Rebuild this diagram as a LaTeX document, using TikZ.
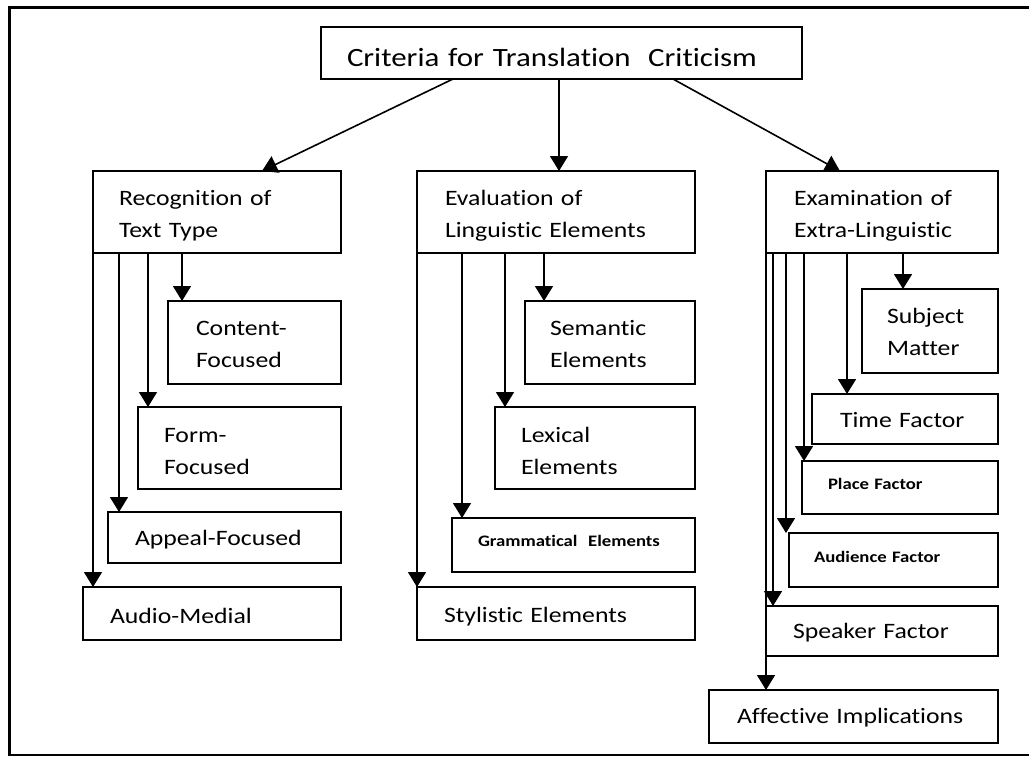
\documentclass[tikz,border=0pt]{standalone}
\usepackage{fontspec}
\setmainfont{Carlito}[FakeStretch=1.17, Ligatures=NoCommon]
\usetikzlibrary{arrows.meta}
\tikzset{
  bx/.style={draw=black, line width=1.6pt, inner ysep=0pt, outer sep=0pt,
    align=left, font=\fontsize{22}{32}\selectfont, anchor=north west},
  sm/.style={font=\fontsize{16}{20}\selectfont\bfseries},
  arr/.style={line width=1.6pt, -{Triangle[width=18pt,length=15pt]}},
  frame/.style={line width=2.8pt}
}
\begin{document}
\begin{tikzpicture}[x=1pt,y=-1pt]
\useasboundingbox (0,0) rectangle (1029,756);
\draw[frame] (9.5,7.5) rectangle (1032,755);

% top
\node[bx, font=\fontsize{26.4}{32}\selectfont, inner xsep=26pt, text width=429pt,
      text height=39pt, text depth=13pt] (top) at (321,27) {Criteria for Translation\ \ Criticism};

% level 1
\node[bx, inner xsep=26pt, text width=196pt, text height=34pt, text depth=48pt] (rec) at (93,171) {Recognition of\\Text Type};
\node[bx, inner xsep=28pt, text width=222pt, text height=34pt, text depth=48pt] (eva) at (417,171) {Evaluation of\\Linguistic Elements};
\node[bx, inner xsep=28pt, text width=176pt, text height=34pt, text depth=48pt] (exa) at (766,171) {Examination of\\Extra-Linguistic};

% left column
\node[bx, inner xsep=28pt, text width=117pt, text height=34pt, text depth=49pt] (con) at (168,301) {Content-\\Focused};
\node[bx, inner xsep=26pt, text width=151pt, text height=35pt, text depth=47pt] (frm) at (138,407) {Form-\\Focused};
\node[bx, inner xsep=27pt, text width=179pt, text height=33pt, text depth=18pt] (app) at (108,512) {Appeal-Focused};
\node[bx, inner xsep=27pt, text width=204pt, text height=36pt, text depth=17pt] (aud) at (83,587) {Audio-Medial};

% middle column
\node[bx, inner xsep=25pt, text width=120pt, text height=34pt, text depth=49pt] (sem) at (525,301) {Semantic\\Elements};
\node[bx, inner xsep=26pt, text width=148pt, text height=35pt, text depth=47pt] (lex) at (495,407) {Lexical\\Elements};
\node[bx, sm, inner xsep=26pt, text width=191pt, text height=28pt, text depth=26pt] (gra) at (452,518) {Grammatical\ \ Elements};
\node[bx, inner xsep=27pt, text width=224pt, text height=35pt, text depth=18pt] (sty) at (417,587) {Stylistic Elements};

% right column
\node[bx, inner xsep=25pt, text width=86pt, text height=34pt, text depth=50pt] (sub) at (862,289) {Subject\\Matter};
\node[bx, inner xsep=28pt, text width=130pt, text height=33pt, text depth=17pt] (tim) at (812,394) {Time Factor};
\node[bx, sm, inner xsep=26pt, text width=144pt, text height=28pt, text depth=25pt] (pla) at (802,461) {Place Factor};
\node[bx, sm, inner xsep=25pt, text width=159pt, text height=29pt, text depth=25pt] (aue) at (789,533) {Audience Factor};
\node[bx, inner xsep=27pt, text width=178pt, text height=32pt, text depth=18pt] (spk) at (766,606) {Speaker Factor};
\node[bx, inner xsep=28pt, text width=233pt, text height=33pt, text depth=20pt] (aff) at (709,690) {Affective Implications};

% arrows from top
\draw[arr] ([xshift=132pt]top.south west) -- ([xshift=169pt]rec.north west);
\draw[arr] ([xshift=238pt]top.south west) -- ([xshift=238pt]top.south west |- eva.north);
\draw[arr] ([xshift=352pt]top.south west) -- ([xshift=74pt]exa.north west);

% branch arrows
\foreach \dx/\t in {89/con, 55/frm, 26/app, 0/aud}
  \draw[arr] ([xshift=\dx pt]rec.south west) -- ([xshift=\dx pt]rec.south west |- \t.north);
\foreach \dx/\t in {127/sem, 88/lex, 45/gra, 0/sty}
  \draw[arr] ([xshift=\dx pt]eva.south west) -- ([xshift=\dx pt]eva.south west |- \t.north);
\foreach \dx/\t in {137/sub, 81/tim, 38/pla, 20/aue, 7/spk, 0/aff}
  \draw[arr] ([xshift=\dx pt]exa.south west) -- ([xshift=\dx pt]exa.south west |- \t.north);
\end{tikzpicture}
\end{document}
